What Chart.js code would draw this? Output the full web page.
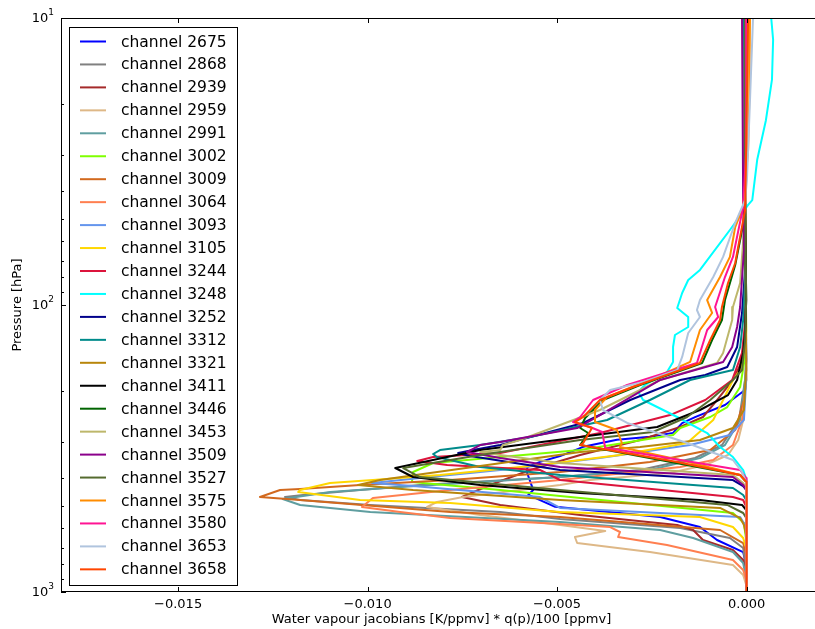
<!DOCTYPE html>
<html>
<head>
<meta charset="utf-8">
<script src="https://cdn.jsdelivr.net/npm/chart.js@4.4.1/dist/chart.umd.min.js"></script>
<style>
  html, body { margin: 0; padding: 0; background: #fff; overflow: hidden; }
  canvas { display: block; }
</style>
</head>
<body>
<canvas id="jac" width="822" height="629"></canvas>
<script>
// Water vapour jacobian profiles, one array per channel:
// [pressure in hPa, jacobian * q(p)/100 in units of 1e-3]
const JAC_UNIT = 1e-3;

const ch2675 = [[10,-0.04],[43.1,-0.04],[155.5,-0.01],[197.8,-0.04],[223,-0.57],[246,-1.36],[258,-1.70],[279,-1.94],[288,-2.55],[295,-3.42],[312,-4.31],[336,-4.92],[352,-5.45],[367,-5.79],[385,-5.79],[441,-5.63],[459,-5.76],[505,-5.05],[548,-2.28],[594,-1.23],[659,-0.78],[726,-0.09],[805,-0.01],[1000,0]];
const ch2868 = [[10,-0.04],[43.1,-0.04],[155.5,-0.01],[182.5,-0.04],[251.6,-0.20],[307.5,-0.65],[341.3,-1.36],[375.8,-2.81],[397.5,-4.92],[423.9,-8.62],[441.2,-10.20],[459.2,-11.70],[466.7,-12.18],[478,-11.78],[497.5,-9.93],[526.3,-6.50],[557,-4.92],[598.4,-1.75],[648.3,-0.44],[702.6,-0.09],[838.2,-0.01],[1000,0]];
const ch2939 = [[10,-0.04],[43.1,-0.04],[132.4,-0.04],[161.8,-0.17],[182.5,-0.36],[214.3,-0.78],[245.6,-1.15],[266.1,-1.75],[295.4,-2.81],[333.2,-4.39],[375.8,-5.71],[423.9,-6.77],[466.7,-7.51],[497.5,-6.50],[539.2,-4.39],[584.3,-1.83],[608.1,-1.41],[658.9,-1.15],[714,-0.36],[773.6,-0.09],[872.5,-0.01],[1000,0]];
const ch2959 = [[10,-0.04],[43.1,-0.04],[155.5,-0.01],[197.8,-0.04],[251.6,-0.09],[295.4,-0.22],[333.2,-0.49],[361,-1.09],[385,-2.02],[407.2,-4.13],[423.9,-4.92],[466.7,-7.48],[485.7,-8.17],[505.5,-8.43],[539.2,-7.03],[584.3,-4.92],[613.1,-3.73],[643.2,-4.53],[675,-4.47],[725.5,-2.55],[805.4,-0.36],[872.5,-0.09],[945.5,-0.01],[1000,0]];
const ch2991 = [[10,-0.04],[43.1,-0.04],[168.5,-0.01],[197.8,-0.07],[251.6,-0.17],[307.5,-0.57],[341.3,-1.23],[375.8,-2.55],[397.5,-4.92],[430.8,-9.14],[448.3,-10.99],[474.2,-12.24],[497.5,-11.78],[526.3,-9.93],[570.3,-4.92],[608.1,-2.28],[648.3,-1.41],[725.5,-0.36],[792.5,-0.09],[893.7,-0.01],[1000,0]];
const ch3002 = [[10,-0.04],[43.1,-0.04],[122.2,-0.01],[151.7,-0.04],[193.1,-0.17],[226.7,-0.51],[245.6,-0.96],[268.3,-1.75],[283.8,-1.94],[320.1,-4.39],[338.6,-6.50],[355.3,-8.27],[381.9,-8.80],[413.8,-8.83],[417.1,-8.54],[441.2,-6.50],[462.9,-4.92],[497.5,-2.50],[530.6,-0.36],[575,-0.07],[658.9,-0.01],[1000,0]];
const ch3009 = [[10,-0.04],[43.1,-0.04],[182.5,-0.01],[214.3,-0.07],[272.6,-0.30],[320.1,-0.96],[352.4,-2.55],[381.9,-4.92],[407.2,-7.82],[423.9,-10.20],[437.5,-11.78],[441.2,-12.31],[466.7,-12.84],[478,-11.78],[498,-10.15],[526.3,-7.82],[548.1,-4.92],[608.1,-0.70],[675,-0.09],[743.2,-0.01],[1000,0]];
const ch3064 = [[10,-0.04],[43.1,-0.04],[182.5,-0.01],[251.6,-0.12],[307.5,-0.36],[346.8,-0.88],[366.8,-1.75],[407.2,-4.92],[441.2,-7.82],[470.4,-9.86],[505.5,-10.15],[526.3,-9.14],[552.5,-7.82],[579.6,-4.92],[593.8,-3.60],[617.9,-3.34],[643.2,-3.39],[685.9,-2.10],[773.6,-0.36],[838.2,-0.09],[908.2,-0.01],[1000,0]];
const ch3093 = [[10,-0.04],[43.1,-0.04],[182.5,-0.01],[251.6,-0.07],[283.8,-0.44],[307.5,-1.49],[341.3,-3.87],[375.8,-6.50],[400.7,-8.62],[417.1,-9.88],[427.3,-8.80],[466.7,-5.45],[509.6,-4.92],[548.1,-0.17],[593.8,-0.01],[1000,0]];
const ch3105 = [[10,-0.04],[43.1,-0.04],[132.4,-0.01],[168.5,-0.17],[182.5,-0.36],[251.6,-0.88],[302.6,-1.57],[333.2,-3.34],[361,-5.45],[391.2,-8.09],[407.2,-9.86],[417.1,-10.99],[441.2,-11.78],[448.3,-11.83],[466.7,-10.81],[478,-10.20],[489.7,-7.82],[526.3,-4.92],[548.1,-1.23],[593.8,-0.36],[648.3,-0.09],[702.6,-0.01],[1000,0]];
const ch3244 = [[10,-0.04],[43.1,-0.04],[88.6,-0.04],[115.5,-0.04],[146.9,-0.12],[182.5,-0.38],[214.3,-1.09],[241.8,-2.02],[279.3,-3.87],[307.5,-5.45],[327.9,-6.50],[338.6,-8.27],[349.6,-8.69],[361,-7.90],[375.8,-5.45],[407.2,-4.92],[466.7,-0.36],[478,-0.09],[505.5,-0.01],[1000,0]];
const ch3248 = [[10,0.65],[11.9,0.70],[16.4,0.67],[22.7,0.51],[31.2,0.28],[43.1,0.15],[44.8,0.04],[54.8,-0.44],[75.5,-1.23],[81.8,-1.54],[90.8,-1.70],[102.4,-1.83],[110.1,-1.54],[119.3,-1.54],[127.2,-1.89],[140.1,-1.94],[157.9,-1.94],[171.2,-2.10],[190,-2.68],[201,-2.86],[214.3,-2.73],[245.6,-1.83],[279.3,-1.04],[312.5,-0.70],[338.6,-0.36],[375.8,-0.09],[407.2,0],[1000,0]];
const ch3252 = [[10,-0.07],[43.1,-0.07],[75.5,-0.04],[106.6,-0.12],[140.1,-0.25],[164.4,-0.51],[175.4,-1.09],[182.5,-1.75],[214.3,-3.07],[257.7,-4.31],[307.5,-6.50],[320.1,-7.22],[327.9,-7.61],[335.9,-7.30],[375.8,-4.92],[407.2,-0.36],[427.3,-0.09],[441.2,-0.01],[1000,0]];
const ch3312 = [[10,-0.07],[43.1,-0.07],[81.8,-0.04],[112.8,-0.09],[140.1,-0.17],[168.5,-0.36],[182.5,-1.49],[214.3,-2.55],[251.6,-3.68],[288.4,-5.71],[307.5,-7.03],[320.1,-8.09],[330.5,-8.27],[338.6,-8.17],[366.8,-7.03],[391.2,-4.92],[434.2,-0.36],[459.2,-0.09],[478,-0.01],[1000,0]];
const ch3321 = [[10,-0.04],[43.1,-0.04],[168.5,-0.01],[232.2,-0.07],[268.3,-0.36],[295.4,-1.23],[312.5,-2.81],[325.3,-4.39],[364,-7.03],[407.2,-9.67],[423.9,-10.25],[441.2,-8.80],[478,-4.92],[509.6,-0.70],[552.5,-0.17],[584.3,-0.07],[633,-0.01],[1000,0]];
const ch3411 = [[10,-0.04],[43.1,-0.04],[96.1,-0.01],[125.2,-0.04],[146.9,-0.09],[182.5,-0.25],[205.9,-0.49],[232.2,-1.23],[266.1,-2.36],[288.4,-4.39],[320.1,-7.03],[369.8,-9.27],[397.5,-8.80],[423.9,-7.03],[451.9,-4.39],[478,-1.23],[497.5,-0.12],[517.9,-0.01],[1000,0]];
const ch3446 = [[10,-0.01],[43.1,-0.04],[48.6,-0.04],[72.6,-0.30],[96.1,-0.57],[112.8,-0.65],[132.4,-0.91],[159.2,-1.17],[190,-2.81],[214.3,-3.79],[247.6,-4.26],[268.3,-4.39],[279.3,-4.18],[307.5,-4.39],[346.8,-2.28],[391.2,-0.17],[413.8,-0.01],[1000,0]];
const ch3453 = [[10,-0.04],[43.1,-0.07],[54.8,-0.07],[83.8,-0.17],[101.6,-0.36],[112.8,-0.38],[146.9,-0.62],[159.2,-0.78],[182.5,-2.28],[232.2,-3.87],[261.9,-4.92],[295.4,-5.98],[307.5,-6.43],[320.1,-6.50],[325.3,-7.03],[333.2,-6.50],[355.3,-4.92],[391.2,-0.36],[417.1,-0.09],[434.2,-0.01],[1000,0]];
const ch3509 = [[10,-0.12],[43.1,-0.09],[64.3,-0.07],[101.6,-0.17],[119.3,-0.25],[140.1,-0.38],[157.9,-0.62],[182.5,-2.28],[241.8,-3.87],[268.3,-4.47],[300,-6.50],[307.5,-7.03],[325.3,-7.38],[341.3,-6.50],[366.8,-4.92],[397.5,-0.36],[423.9,-0.09],[441.2,-0.01],[1000,0]];
const ch3527 = [[10,-0.04],[43.1,-0.04],[96.1,-0.01],[132.4,-0.04],[168.5,-0.12],[182.5,-0.36],[214.3,-0.96],[245.6,-1.57],[277.1,-2.47],[295.4,-4.39],[325.3,-6.50],[333.2,-7.03],[369.8,-9.06],[397.5,-8.62],[441.2,-4.92],[497.5,-0.51],[530.6,-0.09],[552.5,-0.01],[1000,0]];
const ch3575 = [[10,0.09],[19.3,0.07],[28.8,0.04],[45.5,-0.09],[53.5,-0.30],[68,-0.44],[79.9,-0.70],[96.1,-1.04],[106.6,-0.91],[122.2,-1.23],[157.9,-1.49],[182.5,-2.55],[209.2,-3.68],[232.2,-4.00],[255.7,-4.00],[272.6,-3.42],[302.6,-3.29],[312.5,-3.34],[346.8,-1.75],[391.2,-0.17],[413.8,-0.01],[1000,0]];
const ch3580 = [[10,0.01],[28.8,-0.01],[45.5,-0.09],[68,-0.36],[79.9,-0.57],[101.6,-0.83],[110.1,-0.75],[122.2,-1.04],[159.2,-1.31],[190,-3.15],[214.3,-4.05],[245.6,-4.39],[255.7,-4.58],[266.1,-4.13],[277.1,-3.81],[315,-3.73],[320.1,-3.34],[375.8,-0.17],[400.7,-0.01],[1000,0]];
const ch3653 = [[10,0.17],[19.3,0.09],[36.7,0.01],[43.1,-0.04],[51.8,-0.30],[68,-0.62],[79.9,-0.88],[96.1,-1.23],[104.1,-1.31],[110.1,-1.23],[125.2,-1.54],[151.7,-1.70],[168.5,-1.83],[185.5,-2.73],[197.8,-3.60],[214.3,-3.87],[232.2,-3.79],[257.7,-3.15],[302.6,-1.57],[346.8,-0.36],[381.9,-0.12],[413.8,-0.01],[1000,0]];
const ch3658 = [[10,0.04],[28.8,-0.01],[46.7,-0.04],[71.4,-0.30],[83.8,-0.49],[101.6,-0.65],[112.8,-0.70],[132.4,-0.96],[159.2,-1.23],[193.1,-3.00],[214.3,-3.87],[245.6,-4.31],[255.7,-4.53],[268.3,-4.08],[302.6,-4.31],[307.5,-4.39],[352.4,-1.83],[391.2,-0.17],[413.8,0],[1000,0]];

const CHANNELS = ['2675','2868','2939','2959','2991','3002','3009','3064','3093','3105','3244','3248',
                  '3252','3312','3321','3411','3446','3453','3509','3527','3575','3580','3653','3658'];
const PROFILES = [ch2675, ch2868, ch2939, ch2959, ch2991, ch3002, ch3009, ch3064, ch3093, ch3105, ch3244, ch3248,
                  ch3252, ch3312, ch3321, ch3411, ch3446, ch3453, ch3509, ch3527, ch3575, ch3580, ch3653, ch3658];
const COLORS = ['#0000FF','#808080','#A52A2A','#DEB887','#5F9EA0','#7FFF00','#D2691E','#FF7F50','#6495ED','#FFD700','#DC143C','#00FFFF',
                '#00008B','#008B8B','#B8860B','#000000','#006400','#BDB76B','#8B008B','#556B2F','#FF8C00','#FF1493','#B0C4DE','#FF4500'];

const X_TICKS = [-0.015, -0.010, -0.005, 0.000];
const Y_TICKS = [10, 100, 1000];
const X_RANGE = [-0.01809, 0.00199];
const Y_RANGE = [10, 1000];

const FONT = '"DejaVu Sans", "Liberation Sans", sans-serif';

// Axes box, inward ticks, tick labels, axis titles and the legend box.
const axesDecor = {
  id: 'axesDecor',
  afterDatasetsDraw(chart) {
    const { ctx, chartArea: a, scales: { x, y } } = chart;
    ctx.save();
    ctx.strokeStyle = '#000';
    ctx.lineWidth = 1;
    ctx.strokeRect(a.left + 0.5, a.top + 0.5, a.right - a.left - 1, a.bottom - a.top - 1);

    ctx.beginPath();
    X_TICKS.forEach(v => {
      const px = Math.round(x.getPixelForValue(v)) + 0.5;
      ctx.moveTo(px, a.bottom); ctx.lineTo(px, a.bottom - 5);
      ctx.moveTo(px, a.top); ctx.lineTo(px, a.top + 5);
    });
    for (let d = Y_RANGE[0]; d < Y_RANGE[1]; d *= 10) {
      for (let m = 1; m <= 10; m++) {
        const v = d * m;
        const py = Math.round(y.getPixelForValue(v)) + 0.5;
        const len = (m === 1 || m === 10) ? 5 : 3;
        ctx.moveTo(a.left, py); ctx.lineTo(a.left + len, py);
      }
    }
    ctx.stroke();

    // tick labels
    ctx.fillStyle = '#000';
    ctx.font = '13px ' + FONT;
    ctx.textAlign = 'center';
    ctx.textBaseline = 'top';
    X_TICKS.forEach(v => {
      const px = x.getPixelForValue(v);
      ctx.fillText(v.toFixed(3).replace('-', '\u2212'), px, a.bottom + 6);
    });
    Y_TICKS.forEach(v => {
      const py = y.getPixelForValue(v);
      const exp = String(Math.round(Math.log10(v)));
      ctx.font = '9px ' + FONT;
      const ew = ctx.measureText(exp).width;
      ctx.textAlign = 'left';
      ctx.textBaseline = 'middle';
      ctx.fillText(exp, a.left - 7 - ew, py - 5);
      ctx.font = '13px ' + FONT;
      ctx.textAlign = 'right';
      ctx.fillText('10', a.left - 7 - ew, py + 1);
    });

    // axis titles
    ctx.font = '13px ' + FONT;
    ctx.textAlign = 'center';
    ctx.textBaseline = 'middle';
    ctx.fillText('Water vapour jacobians [K/ppmv] * q(p)/100 [ppmv]', (a.left + a.right) / 2, 620);
    ctx.save();
    ctx.translate(18, (a.top + a.bottom) / 2);
    ctx.rotate(-Math.PI / 2);
    ctx.fillText('Pressure [hPa]', 0, 0);
    ctx.restore();

    // legend
    const lx = 69, ly = 27, lw = 168, lh = 558, row = 22.95, first = 41.5;
    ctx.fillStyle = '#fff';
    ctx.fillRect(lx, ly, lw, lh);
    ctx.strokeStyle = '#000';
    ctx.strokeRect(lx + 0.5, ly + 0.5, lw, lh);
    ctx.font = '15.5px ' + FONT;
    ctx.textAlign = 'left';
    ctx.textBaseline = 'middle';
    chart.data.datasets.forEach((ds, i) => {
      const ry = first + i * row;
      ctx.strokeStyle = ds.borderColor;
      ctx.lineWidth = 2;
      ctx.beginPath();
      ctx.moveTo(80, ry); ctx.lineTo(106, ry);
      ctx.stroke();
      ctx.fillStyle = '#000';
      ctx.fillText(ds.label, 121, ry + 1);
    });
    ctx.restore();
  }
};

const datasets = CHANNELS.map((ch, i) => ({
  label: 'channel ' + ch,
  data: PROFILES[i].map(([p, j]) => ({ x: j * JAC_UNIT, y: p })),
  borderColor: COLORS[i],
  backgroundColor: COLORS[i],
  borderWidth: 2,
  borderJoinStyle: 'round',
  pointRadius: 0,
  showLine: true,
  fill: false,
  tension: 0,
  order: CHANNELS.length - i
}));

new Chart(document.getElementById('jac'), {
  type: 'scatter',
  data: { datasets },
  options: {
    responsive: false,
    animation: false,
    devicePixelRatio: 1,
    events: [],
    layout: { padding: { left: 61, top: 18, right: 0, bottom: 37 } },
    plugins: { legend: { display: false }, tooltip: { enabled: false } },
    scales: {
      x: { type: 'linear', min: X_RANGE[0], max: X_RANGE[1], display: false },
      y: { type: 'logarithmic', min: Y_RANGE[0], max: Y_RANGE[1], reverse: true, display: false }
    }
  },
  plugins: [axesDecor]
});
</script>
</body>
</html>
